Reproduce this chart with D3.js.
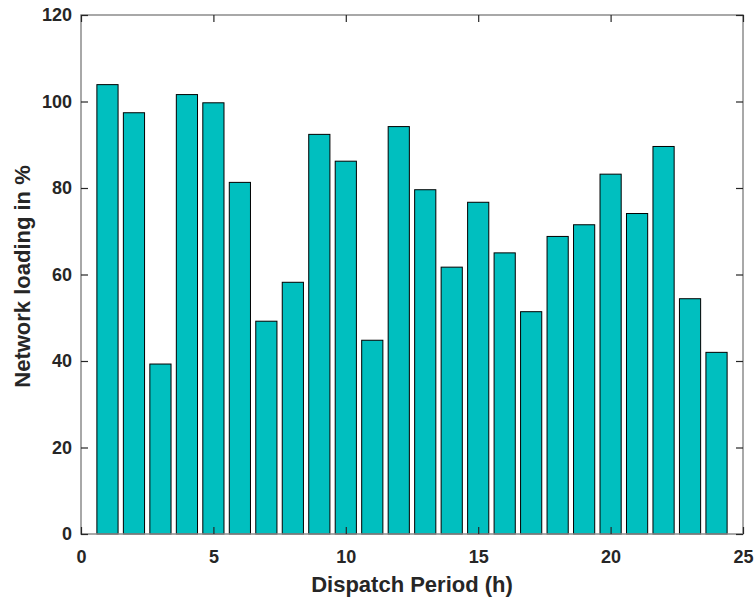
<!DOCTYPE html>
<html>
<head>
<meta charset="utf-8">
<script src="https://cdn.jsdelivr.net/npm/d3@7"></script>
<style>
  body { margin: 0; background: #fff; }
  text { font-family: "Liberation Sans", Arial, sans-serif; font-weight: bold; fill: #262626; }
</style>
</head>
<body>
<div id="chart"></div>
<script>
var svgwidth = 754;
var svgheight = 598;
var margin = { top: 15, right: 11, bottom: 64, left: 81 };
var width = svgwidth - margin.left - margin.right;
var height = svgheight - margin.top - margin.bottom;

// data
var periods = [1, 2, 3, 4, 5, 6, 7, 8, 9, 10, 11, 12, 13, 14, 15, 16, 17, 18, 19, 20, 21, 22, 23, 24];
var loading = [103.9, 97.4, 39.3, 101.6, 99.7, 81.3, 49.2, 58.2, 92.4, 86.2, 44.8, 94.2,
               79.6, 61.7, 76.7, 65.0, 51.4, 68.8, 71.5, 83.2, 74.1, 89.6, 54.4, 42.0];
var xTicks = [0, 5, 10, 15, 20, 25];
var yTicks = [0, 20, 40, 60, 80, 100, 120];

var svg = d3.select("#chart").append("svg").attr("width", svgwidth).attr("height", svgheight);
var chartGroup = svg.append("g").attr("transform", "translate(" + margin.left + "," + margin.top + ")");

var x = d3.scaleLinear().domain([0, 25]).range([0, width]);
var y = d3.scaleLinear().domain([0, 120]).range([height, 0]);
var barW = x(0.8) - x(0);

// bars
chartGroup.selectAll("rect.bar")
    .data(periods)
    .enter()
    .append("rect")
    .attr("class", "bar")
    .attr("x", (d, i) => x(d) - barW / 2)
    .attr("y", (d, i) => y(loading[i]))
    .attr("width", barW)
    .attr("height", (d, i) => height - y(loading[i]))
    .attr("fill", "#00bfbf")
    .attr("stroke", "#000")
    .attr("stroke-width", 1);

// box
chartGroup.append("rect")
    .attr("x", 0).attr("y", 0)
    .attr("width", width).attr("height", height)
    .attr("fill", "none")
    .attr("stroke", "#8c8c8c")
    .attr("stroke-width", 1.5);

// axes, ticks pointing in
var bottomAxis = d3.axisBottom(x).tickValues(xTicks).tickSizeInner(-7).tickSizeOuter(0).tickPadding(16);
var leftAxis = d3.axisLeft(y).tickValues(yTicks).tickSizeInner(-7).tickSizeOuter(0).tickPadding(9);
var topAxis = d3.axisTop(x).tickValues(xTicks).tickSizeInner(-7).tickSizeOuter(0).tickFormat("");
var rightAxis = d3.axisRight(y).tickValues(yTicks).tickSizeInner(-7).tickSizeOuter(0).tickFormat("");

var gb = chartGroup.append("g").attr("transform", "translate(0," + height + ")").call(bottomAxis);
var gl = chartGroup.append("g").call(leftAxis);
var gt = chartGroup.append("g").call(topAxis);
var gr = chartGroup.append("g").attr("transform", "translate(" + width + ",0)").call(rightAxis);

[gb, gl, gt, gr].forEach(function(g) {
    g.select(".domain").remove();
    g.selectAll(".tick line").attr("stroke", "#262626").attr("stroke-width", 1.2);
    g.selectAll(".tick text").style("font-size", "18px").style("font-weight", "bold").attr("fill", "#262626");
});

// axis titles
svg.append("text")
    .attr("text-anchor", "middle")
    .attr("x", margin.left + width / 2)
    .attr("y", 592)
    .style("font-size", "22px")
    .text("Dispatch Period (h)");

svg.append("text")
    .attr("text-anchor", "middle")
    .attr("transform", "translate(30," + (margin.top + height / 2 + 2) + ") rotate(-90)")
    .style("font-size", "22px")
    .text("Network loading in %");
</script>
</body>
</html>
